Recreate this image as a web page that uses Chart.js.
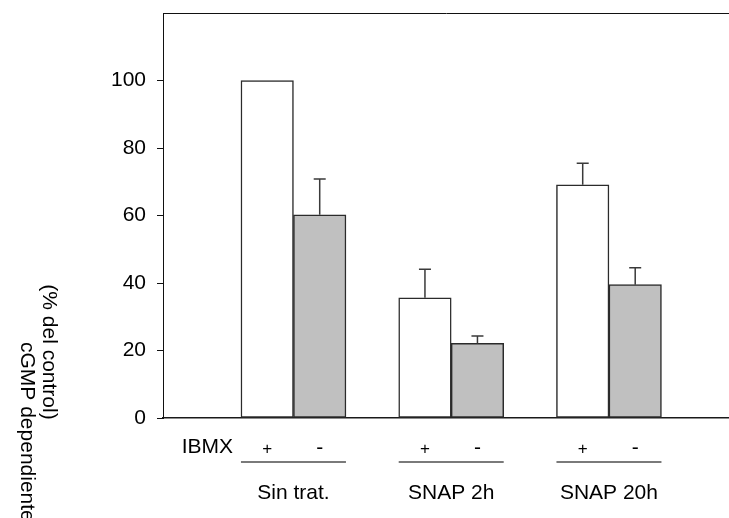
<!DOCTYPE html>
<html>
<head>
<meta charset="utf-8">
<script src="https://cdn.jsdelivr.net/npm/chart.js@4/dist/chart.umd.min.js"></script>
<style>
  html, body { margin: 0; padding: 0; background: #fff; }
  #wrap { position: relative; width: 729px; height: 518px; overflow: hidden; }
</style>
</head>
<body>
<div id="wrap"><canvas id="c"></canvas></div>
<script>
// Groups and IBMX condition
const categories = ['Sin trat.', 'SNAP 2h', 'SNAP 20h'];
const ibmxLabels = ['+', '-'];
const ibmxTitle = 'IBMX';

// cGMP dependiente (% del control)
const withIbmx = [100, 35.6, 69.1];
const withoutIbmx = [60.2, 22.1, 39.5];
const errWithIbmx = [null, 8.5, 6.4];
const errWithoutIbmx = [10.6, 2.2, 5.0];

const yTicks = [0, 20, 40, 60, 80, 100];
const yTitleLines = ['(% del control)', 'cGMP dependiente'];

const FONT = "'Liberation Sans', Arial, sans-serif";

const toPoints = arr => arr.map((v, i) => ({ x: i + 1, y: v }));

function noPad(s) {
  s.paddingTop = 0; s.paddingBottom = 0;
  s.paddingLeft = 0; s.paddingRight = 0;
}

// error bars (upper only), IBMX row, group labels and rotated y title
const decorations = {
  id: 'decorations',
  afterDatasetsDraw(chart) {
    const ctx = chart.ctx;
    const y = chart.scales.y;
    const errs = [errWithIbmx, errWithoutIbmx];
    ctx.save();
    ctx.strokeStyle = '#3a3a3a';
    ctx.lineWidth = 1.5;
    chart.data.datasets.forEach((ds, d) => {
      const meta = chart.getDatasetMeta(d);
      meta.data.forEach((bar, i) => {
        const e = errs[d][i];
        if (e == null) return;
        const top = y.getPixelForValue(ds.data[i].y + e);
        ctx.beginPath();
        ctx.moveTo(bar.x, bar.y);
        ctx.lineTo(bar.x, top);
        ctx.moveTo(bar.x - 6, top);
        ctx.lineTo(bar.x + 6, top);
        ctx.stroke();
      });
    });
    ctx.restore();
  },
  afterDraw(chart) {
    const ctx = chart.ctx;
    const m0 = chart.getDatasetMeta(0).data;
    const m1 = chart.getDatasetMeta(1).data;
    ctx.save();
    ctx.fillStyle = '#000';
    ctx.textBaseline = 'middle';

    ctx.font = '21px ' + FONT;
    ctx.textAlign = 'right';
    ctx.fillText(ibmxTitle, 233, 447);

    categories.forEach((cat, i) => {
      const a = m0[i], b = m1[i];
      ctx.font = '17px ' + FONT;
      ctx.textAlign = 'center';
      ctx.fillText(ibmxLabels[0], a.x, 449);
      ctx.font = '21px ' + FONT;
      ctx.fillText(ibmxLabels[1], b.x, 448);
      const left = a.x - a.width / 2;
      const right = b.x + b.width / 2;
      ctx.strokeStyle = '#7a7a7a';
      ctx.lineWidth = 2;
      ctx.beginPath();
      ctx.moveTo(left, 462);
      ctx.lineTo(right, 462);
      ctx.stroke();
      ctx.font = '21px ' + FONT;
      ctx.fillText(cat, (a.x + b.x) / 2, 493);
    });

    // rotated y-axis title
    ctx.font = '21px ' + FONT;
    ctx.save();
    ctx.translate(49, 352);
    ctx.rotate(Math.PI / 2);
    ctx.textAlign = 'center';
    ctx.fillText(yTitleLines[0], 0, 0);
    ctx.restore();
    ctx.save();
    ctx.translate(27, 342);
    ctx.rotate(Math.PI / 2);
    ctx.textAlign = 'left';
    ctx.fillText(yTitleLines[1], 0, 0);
    ctx.restore();

    ctx.restore();
  }
};

new Chart(document.getElementById('c'), {
  type: 'bar',
  data: {
    datasets: [
      {
        label: ibmxLabels[0],
        data: toPoints(withIbmx),
        backgroundColor: '#ffffff',
        borderColor: '#2b2b2b',
        borderWidth: 1.5,
        borderSkipped: false
      },
      {
        label: ibmxLabels[1],
        data: toPoints(withoutIbmx),
        backgroundColor: '#c0c0c0',
        borderColor: '#2b2b2b',
        borderWidth: 1.5,
        borderSkipped: false
      }
    ]
  },
  plugins: [decorations],
  options: {
    responsive: true,
    maintainAspectRatio: false,
    animation: false,
    devicePixelRatio: 1,
    barThickness: 52.5,
    layout: { padding: { left: 0, right: 0, top: 13, bottom: 100 } },
    plugins: {
      legend: { display: false },
      tooltip: { enabled: false }
    },
    scales: {
      x: {
        type: 'linear',
        position: 'bottom',
        offset: false,
        min: 0.173,
        max: 3.761,
        grid: { display: false },
        ticks: { display: false },
        border: { display: true, color: '#1a1a1a', width: 1.5 },
        afterFit(s) { s.height = 0; noPad(s); }
      },
      x2: {
        type: 'linear',
        position: 'top',
        offset: false,
        min: 0.173,
        max: 3.761,
        grid: { display: false },
        ticks: { display: false },
        border: { display: true, color: '#111', width: 1 },
        afterFit(s) { s.height = 0; noPad(s); }
      },
      y: {
        min: 0,
        max: 120,
        afterBuildTicks(s) { s.ticks = yTicks.map(v => ({ value: v })); },
        afterFit(s) { s.width = 163; noPad(s); },
        grid: {
          display: true,
          drawOnChartArea: false,
          drawTicks: true,
          tickLength: 6,
          color: '#111',
          lineWidth: 1
        },
        border: { display: true, color: '#111', width: 1 },
        ticks: {
          padding: 11,
          color: '#000',
          font: { family: FONT, size: 21 }
        }
      }
    }
  }
});
</script>
</body>
</html>
